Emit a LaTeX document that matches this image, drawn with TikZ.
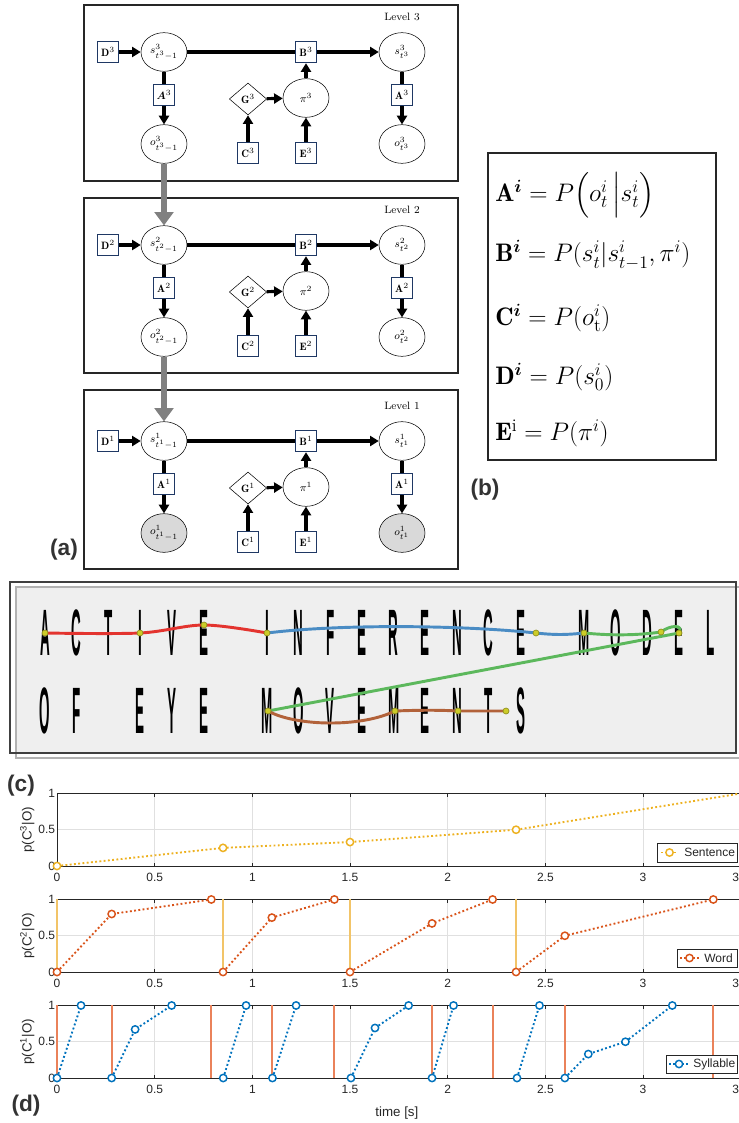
\documentclass[tikz,border=0pt]{standalone}
\usepackage{fix-cm}
\usepackage{amsmath}
\usepackage{amssymb}
\usepackage{graphicx}
\usepackage{fontspec}
\usepackage{tikz}
\usetikzlibrary{shapes.geometric,arrows.meta}
\newfontfamily\plotfont{Liberation Sans}

\definecolor{boxblue}{RGB}{31,56,100}
\definecolor{mred}{RGB}{227,52,47}
\definecolor{mblue}{RGB}{74,140,196}
\definecolor{mgreen}{RGB}{92,184,92}
\definecolor{mbrown}{RGB}{178,98,58}
\definecolor{fixdot}{RGB}{204,204,40}
\definecolor{sentcol}{RGB}{237,177,32}
\definecolor{wordcol}{RGB}{217,83,25}
\definecolor{sylcol}{RGB}{0,114,189}
\definecolor{wordbar}{RGB}{242,196,104}
\definecolor{sylbar}{RGB}{234,130,90}
\definecolor{panelgray}{RGB}{239,239,239}

\begin{document}
\begin{tikzpicture}[x=0.75pt,y=-0.75pt]%[node distance=1.5cm]
  \tikzstyle{state} = [ellipse, draw, fill=white, minimum width=34.5pt, minimum height=29pt, inner sep=0pt, font=\footnotesize]
  \tikzstyle{param} = [rectangle, draw=boxblue, line width=0.8pt, fill=white, minimum size=16pt, inner sep=0pt, font=\footnotesize]
  \tikzstyle{prior} = [diamond, draw, fill=white, minimum width=28pt, minimum height=24pt, inner sep=0pt, font=\footnotesize]
  \tikzstyle{tie} = [line width=2.4pt]
  \tikzstyle{flow} = [line width=2.4pt, -{Triangle[length=6.5pt,width=7.5pt]}]
  \tikzstyle{levelarrow} = [line width=4.2pt, gray, -{Triangle[length=10pt,width=14pt]}]
  \tikzstyle{eqn} = [anchor=west, inner sep=0pt, font=\fontsize{19}{22}\selectfont]
  \tikzstyle{panellabel} = [font=\plotfont\fontsize{17}{19}\selectfont\bfseries, text=black!80]
  \tikzstyle{glyph} = [inner sep=0pt, font=\plotfont\fontsize{24}{24}\selectfont\bfseries]
  \tikzstyle{scanpath} = [line width=2.2pt]
  \tikzstyle{fixation} = [circle, fill=fixdot, draw=fixdot!70!black, line width=0.5pt, inner sep=0pt, minimum size=4.5pt]
  \tikzstyle{gridline} = [black!12, line width=0.6pt]
  \tikzstyle{axisline} = [black!85, line width=0.7pt]
  \tikzstyle{ticklabel} = [inner sep=0pt, font=\plotfont\fontsize{9}{10}\selectfont, text=black!85]
  \tikzstyle{ylab} = [inner sep=0pt, rotate=90, font=\plotfont\fontsize{10}{11}\selectfont, text=black!85]
  \tikzstyle{ring} = [circle, draw, fill=white, line width=1.1pt, inner sep=0pt, minimum size=5.5pt]
  \tikzstyle{dataline} = [line width=1.4pt, dash pattern=on 1.4pt off 1.8pt]
  \tikzstyle{legendbox} = [draw=black!85, fill=white, line width=0.6pt]
  \useasboundingbox (0,0) rectangle (738,1123);

  % (a) three levels
  \foreach \l/\dy/\ytop/\ybot/\ofill/\Aleft in {3/0/5/181/white/\boldsymbol{A}, 2/193/198/373/white/\mathbf{A}, 1/389/390/569/black!15/\mathbf{A}}{
    \draw[line width=0.9pt, black!85] (84,\ytop) rectangle (458,\ybot);
    \node at (402,17+\dy) {\footnotesize Level \l};
    \node[param] (D\l) at (108,52+\dy) {$\mathbf{D}^{\l}$};
    \node[state] (s\l) at (164,52+\dy) {$s^{\l}_{t^{\l}-1}$};
    \node[param] (B\l) at (306,52+\dy) {$\mathbf{B}^{\l}$};
    \node[state] (st\l) at (402,52+\dy) {$s^{\l}_{t^{\l}}$};
    \node[param] (A\l) at (164,95+\dy) {$\Aleft^{\l}$};
    \node[state, fill=\ofill] (o\l) at (164,144+\dy) {$o^{\l}_{t^{\l}-1}$};
    \node[prior] (G\l) at (248,99+\dy) {$\mathbf{G}^{\l}$};
    \node[state] (pi\l) at (306,98+\dy) {$\pi^{\l}$};
    \node[param] (Ar\l) at (402,95+\dy) {$\mathbf{A}^{\l}$};
    \node[state, fill=\ofill] (ot\l) at (402,144+\dy) {$o^{\l}_{t^{\l}}$};
    \node[param] (C\l) at (248,153+\dy) {$\mathbf{C}^{\l}$};
    \node[param] (E\l) at (306,153+\dy) {$\mathbf{E}^{\l}$};
    \draw[flow] (D\l) -- (s\l);
    \draw[tie] (s\l) -- (B\l);
    \draw[flow] (B\l) -- (st\l);
    \draw[tie] (s\l) -- (A\l);
    \draw[flow] (A\l) -- (o\l);
    \draw[tie] (st\l) -- (Ar\l);
    \draw[flow] (Ar\l) -- (ot\l);
    \draw[flow] (G\l) -- (pi\l);
    \draw[flow] (C\l) -- (G\l);
    \draw[flow] (E\l) -- (pi\l);
    \draw[flow] (pi\l) -- (B\l);
  }
  \draw[levelarrow] (o3) -- (s2);
  \draw[levelarrow] (o2) -- (s1);
  \node[panellabel] (pa) at (64,550) {(a)};

  % (b) definitions
  \draw[line width=0.8pt, black!85] (488,153) rectangle (716,460);
  \node[eqn] (eqA) at (495,195) {$\mathbf{A}^{\boldsymbol{i}} = P\Big(o^i_t\,\Big|s^i_t\Big)$};
  \node[eqn] (eqB) at (495,255) {$\mathbf{B}^{\boldsymbol{i}} = P(s^i_t|s^i_{t-1},\pi^i)$};
  \node[eqn] (eqC) at (495,318) {$\mathbf{C}^{\boldsymbol{i}} = P(o^i_{\mathrm{t}})$};
  \node[eqn] (eqD) at (495,377) {$\mathbf{D}^{\boldsymbol{i}} = P(s^i_0)$};
  \node[eqn] (eqE) at (495,433) {$\mathbf{E}^{\mathrm{i}} = P(\pi^i)$};
  \node[panellabel] (pb) at (485,490) {(b)};

  % (c) reading scanpath
  \fill[panelgray] (16,587) rectangle (736,753);
  \draw[black!30, line width=0.9pt] (16,587) rectangle (745,758);
  \draw[black!75, line width=1pt] (10,582) rectangle (736,753);
  \foreach \ch/\k in {A/0,C/1,T/2,I/3,V/4,E/5,I/7,N/8,F/9,E/10,R/11,E/12,N/13,C/14,E/15,M/17,O/18,D/19,E/20,L/21}
    \node[glyph] (top\k) at (45+31.7*\k,633) {\scalebox{0.42}[2.05]{\ch}};
  \foreach \ch/\k in {O/0,F/1,E/3,Y/4,E/5,M/7,O/8,V/9,E/10,M/11,E/12,N/13,T/14,S/15}
    \node[glyph] (bot\k) at (45+31.7*\k,711) {\scalebox{0.42}[2.05]{\ch}};
  \coordinate (f1) at (45,633);
  \coordinate (f2) at (140,633);
  \coordinate (f3) at (204,625);
  \coordinate (f4) at (267,633);
  \coordinate (f5) at (536,633);
  \coordinate (f6) at (584,633);
  \coordinate (f7) at (661,632);
  \coordinate (f8) at (679,633);
  \coordinate (f9) at (268,711);
  \coordinate (f10) at (395,711);
  \coordinate (f11) at (458,711);
  \coordinate (f12) at (506,711);
  \draw[scanpath, mred] plot[smooth, tension=0.55] coordinates {(f1) (f2) (f3) (f4)};
  \draw[scanpath, mblue] (f4) .. controls (340,624) and (460,625) .. (f5) .. controls (555,635) and (565,635) .. (f6);
  \draw[scanpath, mgreen] (f6) .. controls (615,636) and (640,635) .. (f7) .. controls (670,625) and (684,624) .. (f8) -- (f9);
  \draw[scanpath, mbrown] (f9) .. controls (295,726) and (360,728) .. (f10) .. controls (420,710) and (440,710) .. (f11) -- (f12);
  \foreach \f in {f1,f2,f3,f4,f5,f6,f7,f8,f9,f10,f11,f12}
    \node[fixation] at (\f) {};
  \node[panellabel] (pc) at (21,786) {(c)};

  % (d) sentence level
  \begin{scope}[shift={(57,866)}, x=146.5pt, y=54.4pt]
    \foreach \t in {0.5,1,1.5,2,2.5,3}
      \draw[gridline] (\t,0) -- (\t,1);
    \draw[gridline] (0,0.5) -- (3.5,0.5);
    \draw[axisline] (0,0) rectangle (3.5,1);
    \foreach \t in {0,0.5,1,1.5,2,2.5,3}{
      \draw[axisline] (\t,0) -- ++(0,0.045);
      \draw[axisline] (\t,1) -- ++(0,-0.045);
    }
    \foreach \t in {0,0.5,1,1.5,2,2.5,3,3.5}
      \node[ticklabel, anchor=north] at (\t,-0.09) {\t};
    \foreach \v in {0,0.5,1}
      \node[ticklabel, anchor=east] at (-0.008,\v) {\v};
    \node[ylab] at (-0.152,0.5) {p(C\textsuperscript{3}|O)};
    \draw[dataline, sentcol] plot coordinates {(0,0) (0.85,0.25) (1.5,0.33) (2.35,0.5) (3.5,1)};
    \foreach \p in {(0,0),(0.85,0.25),(1.5,0.33),(2.35,0.5)}
      \node[ring, draw=sentcol] at \p {};
  \end{scope}
  \draw[legendbox] (657,843) rectangle (737,862);
  \draw[dataline, sentcol] (661,852.5) -- (678,852.5);
  \node[ring, draw=sentcol] at (669.5,852.5) {};
  \node[ticklabel, anchor=west] at (684,852.5) {Sentence};

  % word level
  \begin{scope}[shift={(57,972)}, x=146.5pt, y=54.4pt]
    \foreach \t in {0.5,1,1.5,2,2.5,3}
      \draw[gridline] (\t,0) -- (\t,1);
    \draw[gridline] (0,0.5) -- (3.5,0.5);
    \draw[axisline] (0,0) rectangle (3.5,1);
    \foreach \t in {0,0.5,1,1.5,2,2.5,3}{
      \draw[axisline] (\t,0) -- ++(0,0.045);
      \draw[axisline] (\t,1) -- ++(0,-0.045);
    }
    \foreach \t in {0,0.5,1,1.5,2,2.5,3,3.5}
      \node[ticklabel, anchor=north] at (\t,-0.09) {\t};
    \foreach \v in {0,0.5,1}
      \node[ticklabel, anchor=east] at (-0.008,\v) {\v};
    \node[ylab] at (-0.152,0.5) {p(C\textsuperscript{2}|O)};
    \foreach \t in {0,0.85,1.5,2.35}
      \draw[wordbar, line width=1.5pt] (\t,0) -- (\t,1);
    \draw[dataline, wordcol] plot coordinates {(0,0) (0.28,0.8) (0.79,1)};
    \draw[dataline, wordcol] plot coordinates {(0.85,0) (1.1,0.75) (1.42,1)};
    \draw[dataline, wordcol] plot coordinates {(1.5,0) (1.92,0.67) (2.23,1)};
    \draw[dataline, wordcol] plot coordinates {(2.35,0) (2.6,0.5) (3.36,1)};
    \foreach \p in {(0,0),(0.28,0.8),(0.79,1),(0.85,0),(1.1,0.75),(1.42,1),(1.5,0),(1.92,0.67),(2.23,1),(2.35,0),(2.6,0.5),(3.36,1)}
      \node[ring, draw=wordcol] at \p {};
  \end{scope}
  \draw[legendbox] (677,949) rectangle (737,967);
  \draw[dataline, wordcol] (680,958) -- (699,958);
  \node[ring, draw=wordcol] at (689.5,958) {};
  \node[ticklabel, anchor=west] at (704,958) {Word};

  % syllable level
  \begin{scope}[shift={(57,1078)}, x=146.5pt, y=54.4pt]
    \foreach \t in {0.5,1,1.5,2,2.5,3}
      \draw[gridline] (\t,0) -- (\t,1);
    \draw[gridline] (0,0.5) -- (3.5,0.5);
    \draw[axisline] (0,0) rectangle (3.5,1);
    \foreach \t in {0,0.5,1,1.5,2,2.5,3}{
      \draw[axisline] (\t,0) -- ++(0,0.045);
      \draw[axisline] (\t,1) -- ++(0,-0.045);
    }
    \foreach \t in {0,0.5,1,1.5,2,2.5,3,3.5}
      \node[ticklabel, anchor=north] at (\t,-0.09) {\t};
    \foreach \v in {0,0.5,1}
      \node[ticklabel, anchor=east] at (-0.008,\v) {\v};
    \node[ylab] at (-0.152,0.5) {p(C\textsuperscript{1}|O)};
    \node[ticklabel, font=\plotfont\fontsize{10}{11}\selectfont] (tlab) at (1.74,-0.48) {time [s]};
    \foreach \t in {0,0.28,0.79,1.1,1.42,1.92,2.23,2.6,3.36}
      \draw[sylbar, line width=1.5pt] (\t,0) -- (\t,1);
    \draw[dataline, sylcol] plot coordinates {(0,0) (0.123,1)};
    \draw[dataline, sylcol] plot coordinates {(0.28,0) (0.40,0.67) (0.587,1)};
    \draw[dataline, sylcol] plot coordinates {(0.851,0) (0.968,1)};
    \draw[dataline, sylcol] plot coordinates {(1.103,0) (1.224,1)};
    \draw[dataline, sylcol] plot coordinates {(1.505,0) (1.628,0.69) (1.80,1)};
    \draw[dataline, sylcol] plot coordinates {(1.92,0) (2.03,1)};
    \draw[dataline, sylcol] plot coordinates {(2.355,0) (2.47,1)};
    \draw[dataline, sylcol] plot coordinates {(2.6,0) (2.72,0.33) (2.91,0.5) (3.15,1)};
    \foreach \p in {(0,0),(0.123,1),(0.28,0),(0.40,0.67),(0.587,1),(0.851,0),(0.968,1),(1.103,0),(1.224,1),(1.505,0),(1.628,0.69),(1.80,1),(1.92,0),(2.03,1),(2.355,0),(2.47,1),(2.6,0),(2.72,0.33),(2.91,0.5),(3.15,1)}
      \node[ring, draw=sylcol] at \p {};
  \end{scope}
  \draw[legendbox] (666,1055) rectangle (737,1073);
  \draw[dataline, sylcol] (669,1064) -- (689,1064);
  \node[ring, draw=sylcol] at (679,1064) {};
  \node[ticklabel, anchor=west] at (693,1064) {Syllable};
  \node[panellabel] (pd) at (26,1106) {(d)};
\end{tikzpicture}
\end{document}
